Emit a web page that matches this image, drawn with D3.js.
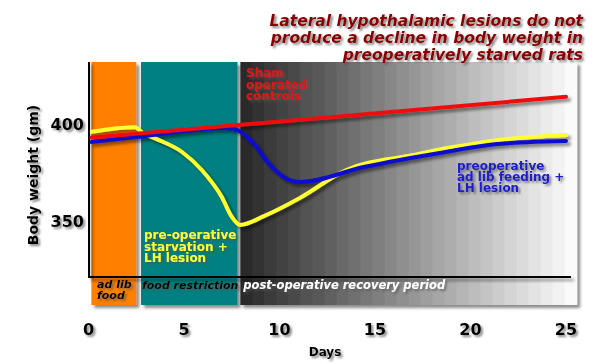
<!DOCTYPE html>
<html>
<head>
<meta charset="utf-8">
<script src="https://cdn.jsdelivr.net/npm/d3@7"></script>
<style>
  body { margin: 0; background: #fff; }
  svg { display: block; font-family: "DejaVu Sans", Verdana, sans-serif; }
  .bold { font-weight: bold; }
</style>
</head>
<body>
<svg width="600" height="364"></svg>
<script>
// phases of the experiment (days)
var phaseNames = ["ad lib food", "food restriction", "post-operative recovery period"];
var phaseStart = [0.15, 2.75, 7.95];
var phaseEnd = [2.5, 7.8, 25.55];

// x ticks and y ticks
var dayTicks = [0, 5, 10, 15, 20, 25];
var weightTicks = [350, 400];

// series: sham operated controls
var shamDays = [0.15, 25];
var shamWeight = [393, 414];

// series: preoperative ad lib feeding + LH lesion
var adlibDays = [0.15, 2.5, 7.3, 7.9, 8.7, 9.5, 10.3, 11.1, 14.4, 18.7, 21.4, 25];
var adlibWeight = [390.7, 393.3, 397.9, 396.4, 389.2, 378.9, 372.2, 370.1, 377.8, 385.6, 389.7, 391.2];

// series: pre-operative starvation + LH lesion
var starvDays = [0.17, 2.43, 2.87, 3.48, 4.88, 5.93, 6.97, 7.5, 7.93, 9.24, 11.07, 13.5, 17.0, 19.1, 21.5, 25];
var starvWeight = [396.0, 398.3, 395.2, 392.6, 385.7, 376.3, 362.5, 352.2, 348.0, 352.8, 361.9, 376.3, 384, 388.1, 391.8, 394.3];

var svg = d3.select("svg");

var x = d3.scaleLinear().domain([0, 25]).range([88.5, 566]);
var y = d3.scaleLinear().domain([350, 400]).range([221, 124]);

var bandTop = 62, bandBottom = 305, axisY = 277;

var defs = svg.append("defs");
var sh = defs.append("filter").attr("id", "shadow")
  .attr("x", "-10%").attr("y", "-10%").attr("width", "130%").attr("height", "140%");
sh.append("feDropShadow").attr("dx", 3).attr("dy", 3).attr("stdDeviation", 1.5)
  .attr("flood-color", "#000").attr("flood-opacity", 0.45);

var tsh = defs.append("filter").attr("id", "tshadow")
  .attr("x", "-10%").attr("y", "-30%").attr("width", "130%").attr("height", "180%");
tsh.append("feDropShadow").attr("dx", 2).attr("dy", 2).attr("stdDeviation", 1.3)
  .attr("flood-color", "#555").attr("flood-opacity", 0.7);

// bands
var bandColors = ["#ff8000", "#008080"];
var g = svg.append("g");

g.append("rect").attr("x", x(phaseStart[0])).attr("y", bandTop)
  .attr("width", x(phaseEnd[0]) - x(phaseStart[0])).attr("height", bandBottom - bandTop)
  .attr("fill", bandColors[0]).attr("filter", "url(#shadow)");
g.append("rect").attr("x", x(phaseStart[1])).attr("y", bandTop)
  .attr("width", x(phaseEnd[1]) - x(phaseStart[1])).attr("height", bandBottom - bandTop)
  .attr("fill", bandColors[1]).attr("filter", "url(#shadow)");

// stepped grey gradient for recovery period
var steps = 28;
var gx0 = x(phaseStart[2]), gx1 = x(phaseEnd[2]);
var stepW = (gx1 - gx0) / steps;
var grey = d3.scaleLinear().domain([0, steps - 1]).range([0.17, 0.98]);
var gg = g.append("g").attr("filter", "url(#shadow)");
gg.selectAll("rect").data(d3.range(steps)).enter().append("rect")
  .attr("x", function(i) { return gx0 + i * stepW; })
  .attr("y", bandTop)
  .attr("width", stepW + 0.6)
  .attr("height", bandBottom - bandTop)
  .attr("fill", function(i) { var v = Math.round(grey(i) * 255); return d3.rgb(v, v, v); });

// axes lines
var ax = svg.append("g").attr("filter", "url(#shadow)");
ax.append("line").attr("x1", 89).attr("x2", 89).attr("y1", bandTop).attr("y2", axisY)
  .attr("stroke", "#000").attr("stroke-width", 2);
ax.append("line").attr("x1", 88).attr("x2", 571).attr("y1", axisY).attr("y2", axisY)
  .attr("stroke", "#000").attr("stroke-width", 2);

// lines
var line = d3.line()
  .x(function(d) { return x(d[0]); })
  .y(function(d) { return y(d[1]); })
  .curve(d3.curveMonotoneX);

function series(days, w) { return days.map(function(d, i) { return [d, w[i]]; }); }

var lg = svg.append("g").attr("fill", "none").attr("stroke-width", 4)
  .attr("stroke-linecap", "round").attr("filter", "url(#shadow)");
lg.append("path").attr("d", line(series(starvDays, starvWeight))).attr("stroke", "#ffff33");
lg.append("path").attr("d", line(series(adlibDays, adlibWeight))).attr("stroke", "#0b0bd0");
lg.append("path").attr("d", line(series(shamDays, shamWeight))).attr("stroke", "#ee1111");

// tick labels
var tg = svg.append("g").attr("class", "bold").attr("filter", "url(#tshadow)");
tg.selectAll(".xt").data(dayTicks).enter().append("text")
  .attr("x", function(d) { return x(d); })
  .attr("y", 335)
  .attr("text-anchor", "middle")
  .attr("font-size", 16)
  .text(function(d) { return d; });
tg.selectAll(".yt").data(weightTicks).enter().append("text")
  .attr("x", 84)
  .attr("y", function(d) { return y(d) + 6; })
  .attr("text-anchor", "end")
  .attr("font-size", 16)
  .text(function(d) { return d; });

tg.append("text").attr("x", 325).attr("y", 356).attr("text-anchor", "middle")
  .attr("font-size", 12).text("Days");
tg.append("text").attr("transform", "translate(38,175) rotate(-90)")
  .attr("text-anchor", "middle").attr("font-size", 14).text("Body weight (gm)");

// title
var title = ["Lateral hypothalamic lesions do not", "produce a decline in body weight in", "preoperatively starved rats"];
svg.append("g").attr("filter", "url(#tshadow)").selectAll("text").data(title).enter().append("text")
  .attr("x", 583).attr("y", function(d, i) { return 26 + i * 17; })
  .attr("text-anchor", "end").attr("font-size", 15.5).attr("font-weight", "bold")
  .attr("font-style", "italic").attr("fill", "#8b0000")
  .text(function(d) { return d; });

// series labels
function block(lines, x0, y0, lh, color, size, italic) {
  var t = svg.append("g").attr("filter", "url(#tshadow)");
  t.selectAll("text").data(lines).enter().append("text")
    .attr("x", x0).attr("y", function(d, i) { return y0 + i * lh; })
    .attr("font-size", size).attr("font-weight", "bold")
    .attr("font-style", italic ? "italic" : "normal")
    .attr("fill", color)
    .text(function(d) { return d; });
}
block(["Sham", "operated", "controls"], 246, 77, 11.7, "#e01414", 12);
block(["preoperative", "ad lib feeding +", "LH lesion"], 457, 170, 11, "#1a1ad0", 12);
block(["pre-operative", "starvation +", "LH lesion"], 144, 239, 11.5, "#ffff33", 12);
block(["ad lib", "food"], 97, 288, 11, "#000", 11, true);
block([phaseNames[1]], x(phaseStart[1]) + 1, 288.5, 11, "#000", 11, true);
block([phaseNames[2]], x(phaseStart[2]) + 3, 289, 11, "#fff", 11.5, true);
</script>
</body>
</html>
